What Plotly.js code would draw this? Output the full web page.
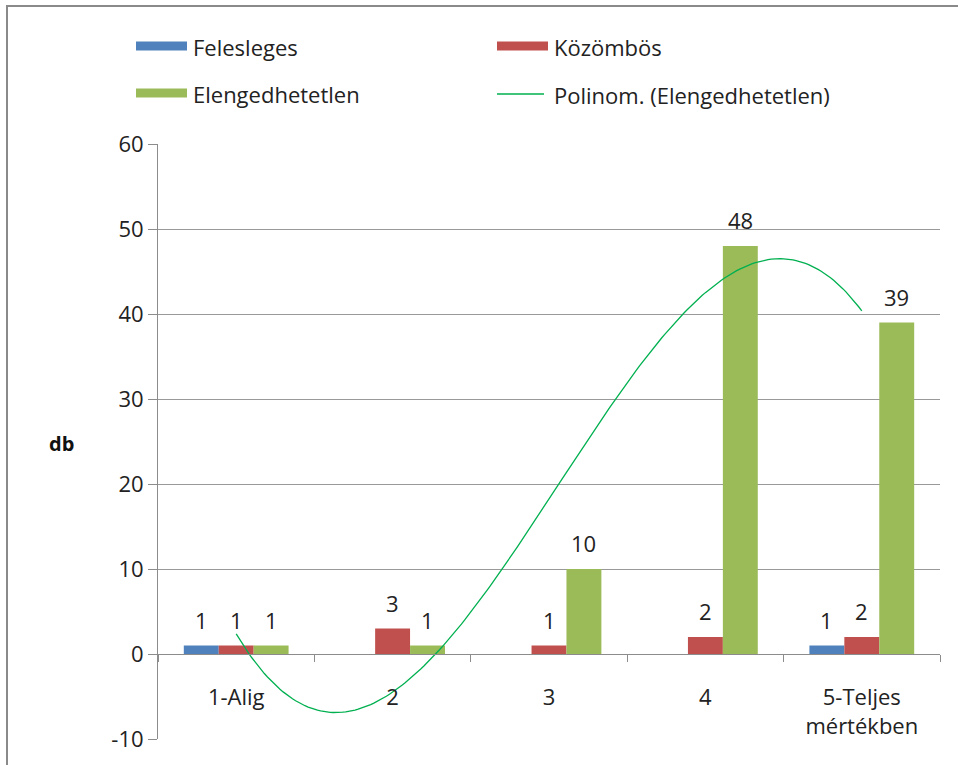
<!DOCTYPE html>
<html>
<head>
<meta charset="utf-8">
<script src="https://cdn.plot.ly/plotly-3.0.1.min.js"></script>
<style>html,body{margin:0;padding:0;background:#fff;overflow:hidden}</style>
</head>
<body>
<div id="chart" style="width:958px;height:765px"></div>
<script>
// ---- data ----
const categories = ['1-Alig', '2', '3', '4', '5-Teljes<br>mértékben'];
const felesleges = [1, null, null, null, 1];
const kozombos = [1, 3, 1, 2, 2];
const elengedhetetlen = [1, 1, 10, 48, 39];
const seriesNames = ['Felesleges', 'Közömbös', 'Elengedhetetlen'];
const trendName = 'Polinom. (Elengedhetetlen)';
const yTickVals = [-10, 0, 10, 20, 30, 40, 50, 60];
const yTickText = ['-10', '0', '10', '20', '30', '40', '50', '60'];

// ---- style ----
const colors = ['#4F81BD', '#C0504D', '#9BBB59'];
const trendColor = '#00B050';
const FONT = 'Open Sans, sans-serif';
const W = 958, H = 765;
const M = {l: 158, r: 18, t: 144, b: 26};
const px2x = p => (p - M.l) / (W - M.l - M.r);
const px2y = p => (H - M.b - p) / (H - M.t - M.b);

// ---- polynomial (order 3) least squares trendline of Elengedhetetlen ----
function polyFit(xs, ys, order) {
  const n = order + 1;
  const A = Array.from({length: n}, () => new Array(n + 1).fill(0));
  for (let k = 0; k < xs.length; k++) {
    for (let i = 0; i < n; i++) {
      for (let j = 0; j < n; j++) A[i][j] += Math.pow(xs[k], i + j);
      A[i][n] += ys[k] * Math.pow(xs[k], i);
    }
  }
  for (let i = 0; i < n; i++) {
    let p = i;
    for (let r = i + 1; r < n; r++) if (Math.abs(A[r][i]) > Math.abs(A[p][i])) p = r;
    [A[i], A[p]] = [A[p], A[i]];
    for (let r = 0; r < n; r++) {
      if (r === i) continue;
      const f = A[r][i] / A[i][i];
      for (let c = i; c <= n; c++) A[r][c] -= f * A[i][c];
    }
  }
  return A.map((row, i) => row[n] / row[i]);
}
const idx = categories.map((_, i) => i + 1);
const coef = polyFit(idx, elengedhetetlen, 3);
const tx = [], ty = [];
const steps = 200;
for (let s = 0; s <= steps; s++) {
  const xv = 1 + 4 * s / steps;
  tx.push(xv - 1);
  ty.push(coef.reduce((acc, c, p) => acc + c * Math.pow(xv, p), 0));
}

const allSeries = [felesleges, kozombos, elengedhetetlen];
const traces = allSeries.map((vals, i) => ({
  type: 'bar', name: seriesNames[i], x: categories, y: vals,
  marker: {color: colors[i]}, showlegend: false, hoverinfo: 'skip'
}));
traces.push({
  type: 'scatter', mode: 'lines', name: trendName, x: tx, y: ty,
  xaxis: 'x2', yaxis: 'y',
  line: {color: trendColor, width: 1.3}, showlegend: false, hoverinfo: 'skip'
});

// data labels (placed on the hidden linear axis x2 at category index)
const slot = (W - M.l - M.r) / categories.length * (1 - 0.33) / 3;
const annotations = [];
allSeries.forEach((vals, si) => {
  vals.forEach((v, ci) => {
    if (v === null || v === undefined) return;
    annotations.push({
      x: ci, y: v, xref: 'x2', yref: 'y', text: String(v),
      showarrow: false, xshift: (si - 1) * slot, yshift: 26, yanchor: 'middle',
      font: {family: FONT, size: 22, color: '#222'}
    });
  });
});
// y title
annotations.push({
  xref: 'paper', yref: 'paper', x: px2x(61), y: px2y(443), text: '<b>db</b>',
  showarrow: false, xanchor: 'center', yanchor: 'middle',
  font: {family: FONT, size: 20, color: '#111'}
});

// custom legend
const legendItems = [
  {name: seriesNames[0], color: colors[0], kind: 'rect', x: 136, y: 46},
  {name: seriesNames[1], color: colors[1], kind: 'rect', x: 497, y: 46},
  {name: seriesNames[2], color: colors[2], kind: 'rect', x: 136, y: 93},
  {name: trendName, color: trendColor, kind: 'line', x: 497, y: 94}
];
const shapes = [];
legendItems.forEach(it => {
  if (it.kind === 'rect') {
    shapes.push({type: 'rect', xref: 'paper', yref: 'paper',
      x0: px2x(it.x), x1: px2x(it.x + 51), y0: px2y(it.y - 4.5), y1: px2y(it.y + 4.5),
      fillcolor: it.color, line: {width: 0}});
  } else {
    shapes.push({type: 'line', xref: 'paper', yref: 'paper',
      x0: px2x(it.x), x1: px2x(it.x + 47), y0: px2y(it.y), y1: px2y(it.y),
      line: {color: it.color, width: 1.3}});
  }
  annotations.push({xref: 'paper', yref: 'paper', x: px2x(it.x + 55), y: px2y(it.y + 1),
    text: it.name, showarrow: false, xanchor: 'left', yanchor: 'middle',
    font: {family: FONT, size: 22, color: '#222'}});
});
// outer frame (left + top edges visible)
shapes.push({type: 'path', xref: 'paper', yref: 'paper',
  path: `M ${px2x(7)} ${px2y(800)} L ${px2x(7)} ${px2y(6)} L ${px2x(1000)} ${px2y(6)}`,
  line: {color: '#8a8a8a', width: 2}});

const layout = {
  width: W, height: H, margin: M,
  paper_bgcolor: '#fff', plot_bgcolor: 'rgba(0,0,0,0)',
  barmode: 'group', bargap: 0.33, bargroupgap: 0,
  showlegend: false,
  font: {family: FONT, size: 22, color: '#222'},
  xaxis: {
    type: 'category', categoryorder: 'array', categoryarray: categories,
    range: [-0.5, 4.5], anchor: 'free', position: 10 / 70,
    showline: true, linecolor: '#8c8c8c', linewidth: 1,
    ticks: 'outside', tickson: 'boundaries', ticklen: 7, tickcolor: '#8c8c8c',
    showgrid: false, zeroline: false, ticklabelstandoff: 24,
    tickfont: {family: FONT, size: 22, color: '#222'}, automargin: false
  },
  xaxis2: {overlaying: 'x', anchor: 'y', range: [-0.5, 4.5], visible: false},
  yaxis: {
    range: [-10, 60], tickvals: yTickVals, ticktext: yTickText,
    showgrid: true, gridcolor: '#999', gridwidth: 1,
    showline: true, linecolor: '#8c8c8c', ticks: 'outside', ticklen: 9, tickcolor: '#8c8c8c',
    zeroline: false, tickfont: {family: FONT, size: 22, color: '#222'}, automargin: false
  },
  annotations: annotations, shapes: shapes
};
Plotly.newPlot('chart', traces, layout, {staticPlot: true});
</script>
</body>
</html>
